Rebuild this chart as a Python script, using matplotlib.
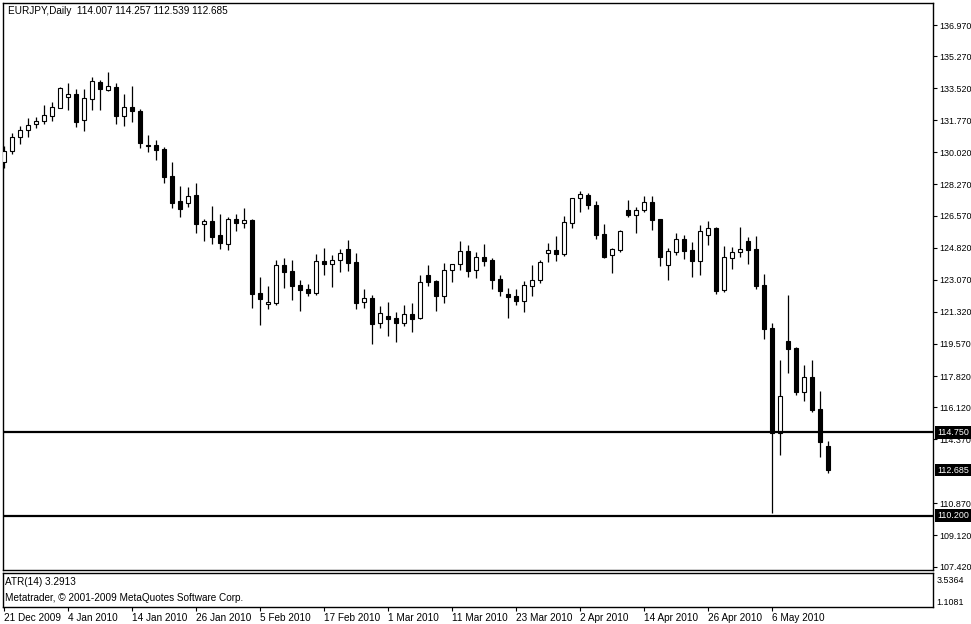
import matplotlib
matplotlib.use("Agg")
import matplotlib.pyplot as plt
from matplotlib.transforms import blended_transform_factory

# ---------------- data ----------------
symbol_title = "EURJPY,Daily  114.007 114.257 112.539 112.685"

opens = [129.52, 130.12, 130.84, 131.23, 131.59, 131.72, 132.03, 132.46, 133.06, 133.21,
         131.77, 132.95, 133.86, 133.44, 133.59, 132.03, 132.50, 132.30, 130.41, 130.43,
         130.21, 128.73, 127.37, 127.24, 127.70, 126.13, 126.28, 125.51, 125.00, 126.39,
         126.19, 126.33, 122.33, 121.73, 121.82, 123.86, 123.55, 122.79, 122.57, 122.37,
         124.10, 123.95, 124.13, 124.75, 124.04, 121.88, 122.06, 120.70, 121.10, 120.99,
         120.73, 121.20, 120.96, 123.31, 123.00, 122.20, 123.58, 123.91, 124.64, 123.58,
         124.31, 124.15, 123.11, 122.27, 122.18, 121.89, 122.75, 123.04, 124.51, 124.69,
         124.49, 126.18, 127.51, 127.69, 127.15, 125.56, 124.40, 124.69, 126.86, 126.59,
         126.86, 127.29, 126.39, 123.89, 124.60, 125.29, 124.69, 124.11, 125.53, 125.89,
         122.51, 124.28, 124.57, 125.18, 124.75, 122.79, 120.44, 114.70, 119.73, 119.35,
         116.97, 117.75, 116.02, 114.007]
highs = [130.37, 131.06, 131.46, 131.90, 131.95, 132.61, 132.77, 133.59, 133.81, 133.48,
         133.48, 134.13, 133.99, 134.43, 133.81, 133.21, 133.64, 132.41, 130.97, 130.70,
         130.33, 129.50, 128.19, 128.13, 128.35, 126.39, 127.10, 126.66, 126.48, 126.66,
         126.97, 126.39, 123.22, 122.73, 124.13, 124.26, 124.13, 123.06, 122.84, 124.48,
         124.80, 124.42, 124.75, 125.24, 124.53, 122.57, 122.26, 121.64, 121.86, 121.31,
         121.70, 121.80, 123.33, 123.87, 123.05, 123.96, 123.95, 125.18, 124.96, 124.60,
         125.02, 124.26, 123.33, 122.62, 122.56, 122.98, 123.87, 124.15, 125.07, 125.45,
         126.55, 127.55, 127.91, 127.80, 127.36, 126.11, 124.78, 125.78, 127.42, 127.02,
         127.64, 127.64, 126.40, 124.82, 125.62, 125.51, 125.13, 126.06, 126.28, 125.95,
         124.91, 124.86, 125.95, 125.40, 125.46, 123.39, 120.71, 118.69, 122.24, 119.40,
         118.42, 118.69, 117.00, 114.257]
lows = [129.19, 129.95, 130.48, 130.88, 131.37, 131.59, 131.75, 132.46, 132.35, 131.41,
        131.21, 132.35, 132.35, 133.39, 131.57, 131.46, 131.70, 130.28, 130.06, 129.63,
        128.37, 127.00, 126.52, 127.06, 125.64, 125.21, 125.04, 124.77, 124.71, 125.75,
        125.91, 121.55, 120.62, 121.50, 121.71, 122.64, 121.99, 121.39, 122.20, 122.26,
        123.35, 122.70, 123.51, 123.57, 121.50, 121.55, 119.59, 120.46, 120.02, 119.70,
        120.57, 120.24, 120.93, 122.73, 121.38, 121.82, 122.96, 123.62, 123.24, 123.18,
        123.84, 122.58, 122.20, 121.00, 121.71, 121.33, 122.20, 122.91, 124.06, 124.11,
        124.38, 125.91, 126.75, 126.91, 125.31, 124.27, 123.42, 124.60, 126.51, 125.64,
        126.75, 125.80, 123.84, 123.08, 124.42, 124.22, 123.24, 123.35, 124.97, 122.31,
        122.40, 123.68, 124.31, 123.93, 122.59, 119.86, 110.33, 113.51, 118.00, 116.79,
        116.48, 115.86, 113.42, 112.539]
closes = [130.10, 130.86, 131.23, 131.52, 131.74, 132.06, 132.50, 133.53, 133.21, 131.70,
          132.99, 133.92, 133.50, 133.64, 132.03, 132.50, 132.30, 130.55, 130.39, 130.17,
          128.70, 127.28, 126.95, 127.64, 126.13, 126.28, 125.42, 125.10, 126.37, 126.19,
          126.31, 122.31, 122.02, 121.84, 123.86, 123.51, 122.75, 122.53, 122.37, 124.10,
          123.95, 124.15, 124.51, 124.00, 121.82, 122.06, 120.68, 121.26, 120.93, 120.73,
          121.20, 120.93, 122.93, 122.96, 122.20, 123.60, 123.91, 124.64, 123.56, 124.29,
          124.11, 123.07, 122.47, 122.15, 121.93, 122.76, 123.06, 124.04, 124.69, 124.49,
          126.22, 127.51, 127.73, 127.13, 125.53, 124.33, 124.73, 125.71, 126.59, 126.86,
          127.29, 126.35, 124.33, 124.64, 125.29, 124.66, 124.11, 125.73, 125.89, 122.46,
          124.31, 124.58, 124.75, 124.71, 122.75, 120.40, 114.70, 116.73, 119.31, 116.97,
          117.75, 115.97, 114.20, 112.685]

date_tick_pos = [0, 8, 16, 24, 32, 40, 48, 56, 64, 72, 80, 88, 96]
date_tick_labels = ["21 Dec 2009", "4 Jan 2010", "14 Jan 2010", "26 Jan 2010", "5 Feb 2010",
                    "17 Feb 2010", "1 Mar 2010", "11 Mar 2010", "23 Mar 2010", "2 Apr 2010",
                    "14 Apr 2010", "26 Apr 2010", "6 May 2010"]

price_ticks = [136.970, 135.270, 133.520, 131.770, 130.020, 128.270, 126.570, 124.820,
               123.070, 121.320, 119.570, 117.820, 116.120, 114.370, 110.870, 109.120, 107.420]

hlines = [114.750, 110.200]
last_price = 112.685

atr_label = "ATR(14) 3.2913"
atr_ticks = [3.5364, 1.1081]
copyright_text = "Metatrader, \u00a9 2001-2009 MetaQuotes Software Corp."

# ---------------- style ----------------
W, H = 971, 624
FONT = ["Liberation Sans Narrow", "Liberation Sans", "DejaVu Sans"]
FS = 7.2
FS_R = 6.4
plt.rcParams["font.family"] = FONT
plt.rcParams["font.size"] = FS

fig = plt.figure(figsize=(W / 100, H / 100), dpi=100, facecolor="white")


def px_rect(l, t, r, b):
    return [l / W, 1 - b / H, (r - l) / W, (b - t) / H]


ax = fig.add_axes(px_rect(2.5, 2.5, 933, 570))
axi = fig.add_axes(px_rect(2.5, 572.5, 933, 607))

n = len(opens)
xs = list(range(n))

# wicks
ax.vlines(xs, lows, highs, color="black", linewidth=0.9, zorder=2)
# bodies
bottoms = [min(o, c) for o, c in zip(opens, closes)]
heights = [max(abs(c - o), 0.02) for o, c in zip(opens, closes)]
faces = ["white" if c >= o else "black" for o, c in zip(opens, closes)]
ax.bar(xs, heights, bottom=bottoms, width=0.5, color=faces, edgecolor="black",
       linewidth=0.8, zorder=3)

for hv in hlines:
    ax.axhline(hv, color="black", linewidth=1.6, zorder=4)

x0 = (2.5 - 3.5) / 8
x1 = (933 - 3.5) / 8
ax.set_xlim(x0, x1)
ax.set_ylim(107.237, 138.198)
ax.set_xticks([])
ax.yaxis.tick_right()
ax.set_yticks(price_ticks)
ax.set_yticklabels([f"{v:.3f}" for v in price_ticks])
ax.tick_params(axis="y", direction="out", length=3, width=0.8, pad=1.2,
               labelsize=FS_R, colors="black")
for s in ax.spines.values():
    s.set_linewidth(1.0)

# price label boxes
tr = blended_transform_factory(ax.transAxes, ax.transData)
for v in hlines + [last_price]:
    ax.text(1.0042, v, f"{v:.3f}", transform=tr, ha="left", va="center",
            color="white", fontsize=FS_R, zorder=20, clip_on=False,
            bbox=dict(boxstyle="square,pad=0.2", fc="black", ec="none"))

ax.text(5 / 930, 1 - 9 / 567.5, symbol_title, transform=ax.transAxes,
        ha="left", va="center", fontsize=FS)

# indicator panel
axi.set_xlim(x0, x1)
axi.set_ylim(0.446, 4.309)
axi.yaxis.tick_right()
axi.set_yticks(atr_ticks)
axi.set_yticklabels([f"{v:.4f}" for v in atr_ticks])
axi.tick_params(axis="y", direction="out", length=0, pad=2.5, labelsize=FS_R)
axi.set_xticks(date_tick_pos)
axi.set_xticklabels(date_tick_labels)
axi.tick_params(axis="x", direction="out", length=3, width=0.8, pad=1.5, labelsize=FS)
for lab in axi.get_xticklabels():
    lab.set_horizontalalignment("left")
for s in axi.spines.values():
    s.set_linewidth(1.0)

fig.text(5 / W, 1 - 582 / H, atr_label, ha="left", va="center", fontsize=FS)
fig.text(5 / W, 1 - 598 / H, copyright_text, ha="left", va="center", fontsize=FS)

fig.savefig("out.png", dpi=100, facecolor="white")
